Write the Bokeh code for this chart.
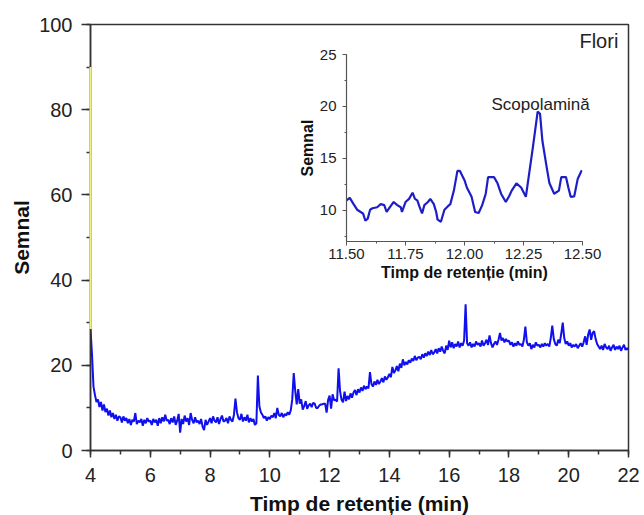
import numpy as np
from bokeh.plotting import figure
from bokeh.layouts import column
from bokeh.models import Label, SingleIntervalTicker, PrintfTickFormatter
from bokeh.embed import file_html
from bokeh.resources import INLINE

# Full chromatogram, sampled every 0.05 min from 4.00 to 22.00 min
t_start, t_end, t_step = 4.0, 22.0, 0.05
signal = [
    28.5, 22.5, 15.0, 13.0, 11.4, 12.0, 10.2, 11.4, 9.4, 10.8, 9.0, 9.8, 8.2, 9.4, 7.8, 8.8, 7.4, 8.4, 7.0, 8.0,
    7.8, 6.6, 8.0, 7.0, 7.6, 6.4, 7.4, 6.0, 7.2, 6.8, 8.8, 6.2, 7.0, 6.6, 7.4, 5.8, 7.2, 6.4, 7.6, 6.8,
    7.0, 6.0, 7.4, 6.6, 7.2, 5.8, 7.6, 6.4, 7.8, 6.8, 8.4, 7.0, 7.2, 6.2, 7.6, 6.6, 8.0, 6.0, 7.0, 8.6,
    4.2, 7.4, 6.2, 8.2, 6.8, 7.6, 6.0, 8.8, 7.2, 6.4, 7.8, 6.6, 7.0, 6.2, 7.4, 5.6, 4.8, 7.2, 6.0, 6.8,
    7.6, 6.4, 8.0, 7.0, 6.6, 7.8, 6.2, 7.4, 8.2, 6.8, 7.0, 7.6, 6.4, 8.0, 7.2, 6.8, 8.4, 12.2, 9.0, 7.6,
    7.2, 8.6, 6.8, 7.8, 7.0, 8.4, 6.6, 7.6, 6.8, 7.4, 6.0, 6.4, 17.6, 10.4, 9.0, 8.4, 7.6, 8.0, 7.0, 7.8,
    7.4, 8.2, 7.8, 8.8, 7.6, 10.0, 8.4, 8.0, 8.8, 7.8, 8.6, 8.2, 9.0, 8.4, 9.4, 12.0, 18.2, 14.0, 10.8, 14.4,
    11.0, 12.0, 9.6, 10.4, 11.6, 9.8, 10.6, 11.0, 10.2, 11.2, 11.0, 10.0, 10.0, 10.5, 10.8, 10.8, 11.0, 11.0, 8.9, 11.9,
    12.9, 9.8, 13.2, 11.8, 11.9, 11.5, 19.3, 13.9, 11.9, 11.3, 13.8, 11.6, 12.8, 12.0, 13.4, 12.4, 13.6, 14.2, 13.0, 14.4,
    13.6, 14.8, 14.0, 15.2, 14.4, 15.0, 14.6, 18.4, 15.6, 15.0, 16.2, 15.4, 16.6, 15.6, 16.2, 17.0, 16.0, 17.4, 16.6, 17.2,
    18.0, 17.2, 19.6, 18.2, 18.8, 19.8, 18.6, 20.4, 19.4, 21.4, 20.0, 20.8, 20.2, 21.2, 20.6, 21.6, 21.0, 22.2, 21.2, 21.8,
    22.0, 21.4, 22.6, 21.8, 22.8, 22.2, 23.2, 22.4, 23.6, 22.6, 23.0, 23.8, 22.8, 24.0, 23.2, 24.4, 23.4, 22.8, 24.6, 23.6,
    25.8, 24.2, 25.4, 24.0, 25.0, 24.4, 25.6, 24.2, 25.2, 24.6, 25.8, 34.3, 25.2, 24.6, 25.4, 24.2, 25.0, 24.4, 25.6, 24.8,
    25.2, 24.4, 25.8, 24.6, 25.2, 26.0, 24.8, 27.0, 25.2, 24.2, 25.0, 25.6, 24.8, 26.0, 27.6, 25.8, 26.4, 25.4, 26.2, 25.6,
    25.8, 24.8, 25.4, 24.4, 25.2, 24.6, 25.6, 24.8, 25.0, 24.4, 26.0, 29.1, 25.4, 24.6, 25.2, 23.8, 24.8, 24.2, 25.4, 24.6,
    24.8, 24.2, 25.0, 24.4, 25.2, 24.6, 25.0, 24.4, 26.4, 29.3, 26.2, 25.0, 24.6, 26.0, 25.2, 27.4, 30.0, 26.4, 25.0, 25.6,
    24.6, 25.2, 24.2, 24.8, 24.4, 25.0, 24.0, 24.6, 25.2, 24.4, 25.4, 26.8, 24.8, 27.2, 28.4, 26.0, 27.6, 28.0, 26.2, 25.0,
    24.4, 23.8, 24.6, 23.6, 25.0, 24.2, 23.8, 24.6, 23.4, 24.2, 24.8, 23.6, 24.4, 23.8, 24.6, 23.4, 24.2, 24.8, 23.6, 24.0,
    23.6,
]
time = np.round(np.arange(len(signal)) * t_step + t_start, 2)

# Detector trace at the start of the run (highlighted segment on the axis)
marker_time = 4.0
marker_low, marker_high = 28.5, 90.0

# Zoomed view of 11.5-12.5 min
zoom_time = [
    11.500, 11.514, 11.530, 11.545, 11.560, 11.570, 11.580, 11.590, 11.600, 11.610,
    11.630, 11.645, 11.660, 11.670, 11.690, 11.700, 11.715, 11.730, 11.735, 11.750,
    11.765, 11.780, 11.790, 11.800, 11.810, 11.820, 11.830, 11.845, 11.855, 11.870,
    11.880, 11.886, 11.900, 11.915, 11.930, 11.940, 11.955, 11.970, 11.980, 12.000,
    12.010, 12.030, 12.045, 12.060, 12.075, 12.090, 12.100, 12.125, 12.140, 12.155,
    12.175, 12.190, 12.200, 12.220, 12.240, 12.260, 12.270, 12.290, 12.310, 12.320,
    12.330, 12.350, 12.360, 12.380, 12.400, 12.410, 12.430, 12.440, 12.450, 12.465,
    12.480, 12.497,
]
zoom_signal = [
    10.96, 11.2, 10.6, 10.06, 9.84, 9.7, 9.0, 9.2, 10.06, 10.2,
    10.3, 10.6, 10.5, 9.84, 10.5, 10.8, 10.5, 10.3, 9.84, 10.8,
    11.1, 11.7, 11.1, 10.96, 10.3, 9.7, 10.5, 10.8, 11.1, 10.6,
    9.84, 9.1, 8.9, 10.06, 10.4, 10.6, 11.9, 13.8, 13.8, 12.9,
    12.2, 11.3, 9.84, 9.74, 10.5, 11.6, 13.2, 13.2, 12.6, 11.6,
    10.8, 11.4, 11.9, 12.6, 12.2, 11.3, 12.9, 16.1, 19.5, 19.3,
    16.7, 13.9, 12.6, 11.6, 11.9, 13.2, 13.2, 12.2, 11.3, 11.35,
    13.05, 13.85,
]
peak_name = "Scopolamină"
sample_name = "Flori"

FONT = "Liberation Sans"
AXIS_COLOR = "#333333"

# ---------------- main chromatogram ----------------
p = figure(frame_width=538, frame_height=426,
           min_border_left=90, min_border_right=16, min_border_top=24, min_border_bottom=65,
           x_range=(4, 22), y_range=(0, 100),
           output_backend="svg", toolbar_location=None, tools="")
p.grid.visible = False
p.outline_line_color = AXIS_COLOR
p.outline_line_width = 1.5
p.background_fill_color = "white"
p.border_fill_color = "white"

p.xaxis.ticker = SingleIntervalTicker(interval=2, num_minor_ticks=2)
p.yaxis.ticker = SingleIntervalTicker(interval=20, num_minor_ticks=2)
for ax in (p.xaxis, p.yaxis):
    ax.axis_line_color = AXIS_COLOR
    ax.axis_line_width = 1.5
    ax.major_tick_line_color = AXIS_COLOR
    ax.major_tick_line_width = 1.5
    ax.minor_tick_line_color = AXIS_COLOR
    ax.minor_tick_line_width = 1.5
    ax.major_tick_in = 0
    ax.minor_tick_in = 0
    ax.minor_tick_out = 4
    ax.major_label_text_font = FONT
    ax.major_label_text_font_size = "20px"
    ax.major_label_text_color = "#222222"
    ax.axis_label_text_font = FONT
    ax.axis_label_text_font_size = "21px"
    ax.axis_label_text_font_style = "bold"
    ax.axis_label_text_color = "#111111"
p.xaxis.axis_label = "Timp de retenție (min)"
p.yaxis.axis_label = "Semnal"
p.xaxis.major_tick_out = 7
p.yaxis.major_tick_out = 9
p.xaxis.major_label_standoff = 10
p.yaxis.major_label_standoff = 9
p.xaxis.axis_label_standoff = 7
p.yaxis.axis_label_standoff = 3

p.line(time, signal, line_color="#1010ee", line_width=2.0)
hl = p.segment(x0=[marker_time], y0=[marker_low], x1=[marker_time], y1=[marker_high],
               line_color="#eef27a", line_width=2.0)
hl.level = "overlay"

p.add_layout(Label(x=21.66, y=98.8, text=sample_name, text_align="right", text_baseline="top",
                   text_font=FONT, text_font_size="20px", text_color="#222222"))
# peak name sits above the inset peak; drawn on the main canvas so it may
# run past the inset's right edge
p.add_layout(Label(x=19.06, y=81.3, text=peak_name, text_align="center",
                   text_baseline="alphabetic", text_font=FONT, text_font_size="17px",
                   text_color="#222222"))

# ---------------- inset: 11.5-12.5 min ----------------
ins = figure(frame_width=236, frame_height=187,
             min_border_left=90, min_border_right=24, min_border_top=9, min_border_bottom=50,
             x_range=(11.5, 12.5), y_range=(7, 25),
             output_backend="svg", toolbar_location=None, tools="")
ins.grid.visible = False
ins.outline_line_color = None
ins.background_fill_alpha = 0
ins.border_fill_alpha = 0
ins.xaxis.ticker = SingleIntervalTicker(interval=0.25, num_minor_ticks=2)
ins.yaxis.ticker = SingleIntervalTicker(interval=5, num_minor_ticks=2)
ins.xaxis.formatter = PrintfTickFormatter(format="%.2f")
for ax in (ins.xaxis, ins.yaxis):
    ax.axis_line_color = "#555555"
    ax.axis_line_width = 1.2
    ax.major_tick_line_color = "#555555"
    ax.minor_tick_line_color = "#555555"
    ax.major_tick_in = 0
    ax.minor_tick_in = 0
    ax.major_tick_out = 4
    ax.minor_tick_out = 2
    ax.major_label_text_font = FONT
    ax.major_label_text_font_size = "15px"
    ax.major_label_text_color = "#222222"
    ax.axis_label_text_font = FONT
    ax.axis_label_text_font_size = "16px"
    ax.axis_label_text_font_style = "bold"
    ax.axis_label_text_color = "#111111"
ins.xaxis.axis_label = "Timp de retenție (min)"
ins.yaxis.axis_label = "Semnal"
ins.xaxis.major_label_standoff = 3
ins.yaxis.major_label_standoff = 6
ins.xaxis.axis_label_standoff = 2
ins.yaxis.axis_label_standoff = 1

ins.line(zoom_time, zoom_signal, line_color="#1e1ec8", line_width=2.2)

inset_box = column(ins, styles={"position": "absolute", "left": "256px", "top": "45px"})
page = column(p, inset_box, styles={"position": "relative"})
open("out.html", "w").write(file_html(page, INLINE))
